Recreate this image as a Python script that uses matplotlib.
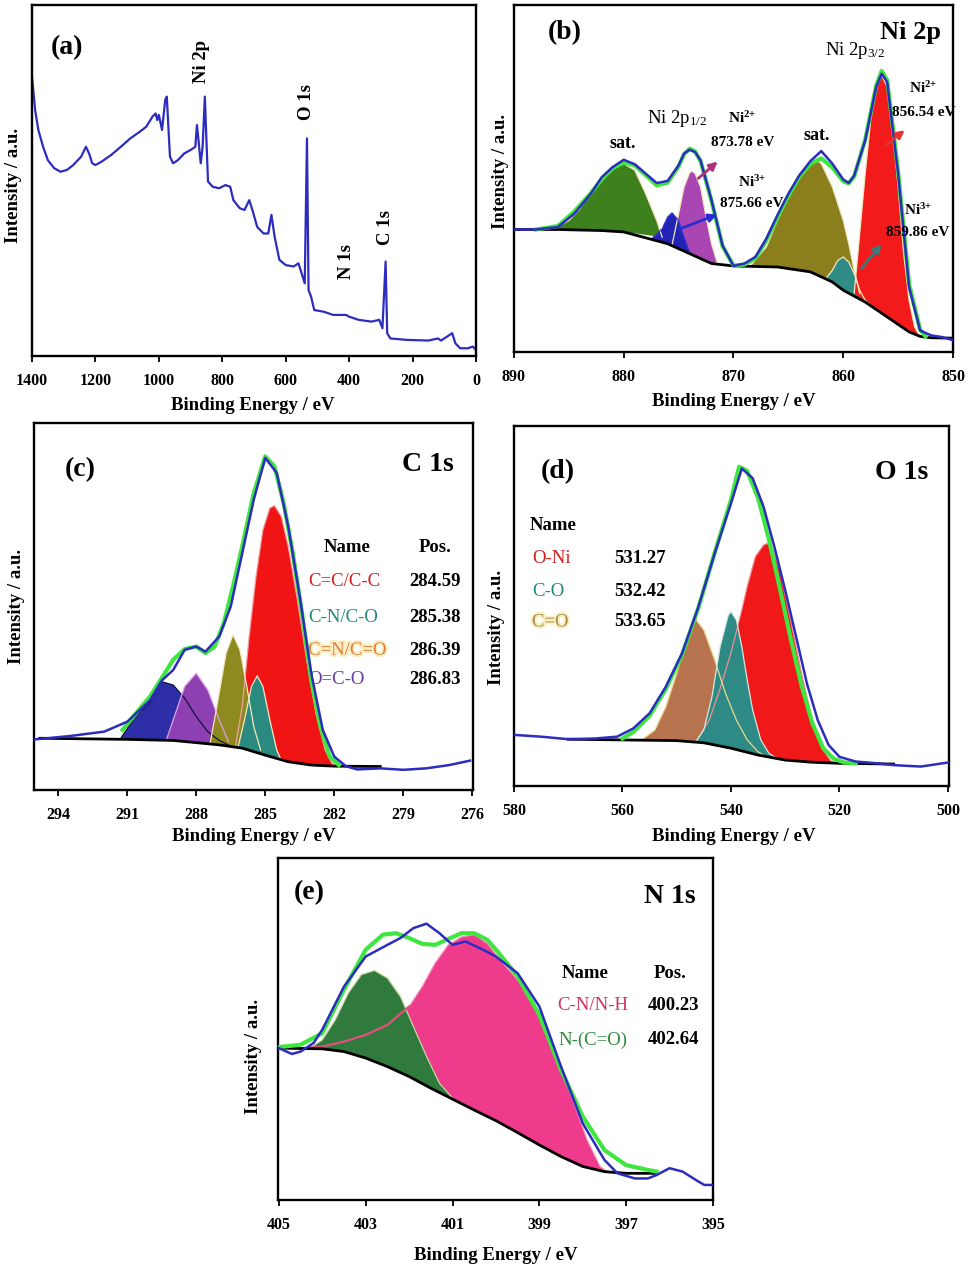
import matplotlib
matplotlib.use('Agg')
import matplotlib.pyplot as plt
import numpy as np
from matplotlib import patheffects as pe

plt.rcParams['font.family'] = ['Liberation Serif', 'DejaVu Serif']
plt.rcParams['font.weight'] = 'bold'
plt.rcParams['axes.labelweight'] = 'bold'
plt.rcParams['mathtext.default'] = 'regular'

# ---------------- data (a) survey ----------------
survey_E = [1400,1390,1380,1365,1350,1330,1310,1290,1270,1245,1230,1220,1210,1200,1180,1150,1120,1090,1060,1040,
            1020,1010,1005,1000,990,980,975,970,965,955,940,920,900,885,880,875,868,862,855,850,845,830,810,790,775,
            765,745,730,715,705,690,670,655,645,635,620,600,575,560,550,540,533,528,520,510,480,450,410,400,370,330,
            305,295,285,280,270,220,150,120,110,75,65,50,25,10,0]
survey_I = [79.6,70,64.4,59.6,55.8,53.5,52.5,53,54.4,56.8,59.6,57.7,54.9,54.4,55.4,57.3,59.6,62,63.9,65.3,
            68.2,69.1,67.2,68.7,64.4,72.9,73.9,65.3,56.8,54.9,55.8,57.7,58.7,59.6,65.8,61.5,54.9,59.6,73.9,61.5,49.7,
            48.2,47.8,48.7,48.2,44.4,42.1,41.6,44.4,41.6,36.8,34.9,34.9,40.2,34,27.4,25.9,25.5,26.4,23.6,20.7,62,18.8,
            16.9,13.1,12.6,11.7,11.7,11.2,10.3,9.8,10.3,7.9,26.9,6.5,5,4.6,4.4,5,4.4,6.5,3.6,2.2,2.2,2.7,1.7]
survey_ticks = [1400, 1200, 1000, 800, 600, 400, 200, 0]

# ---------------- data (b) Ni 2p ----------------
b_bg_E = [890,886,882,880,876,872,870,866,863,861,860,858,856,854,853,852,850]
b_bg_I = [35.3,35.3,35.0,34.6,31.2,25.5,24.8,24.5,23.1,20.2,17.8,14.4,10.1,5.8,4.5,4.1,4.0]
b_raw_E = [890,888,886,884.5,883,882,881,880,879,878,877,876,875,874.5,874,873.5,873,872,871,870,869,868,867,866,
           865,864,863,862,861,860,859.5,859,858,857,856.5,856,855,854,853,852,851,850]
b_raw_I = [35.3,35.3,36.0,39.9,45.6,50.4,53.3,55.4,54.1,51.4,48.7,49.3,53.8,57.2,58.3,57.6,55.2,43.7,30.7,24.8,
           25.5,27.4,32.7,39.4,45.6,50.9,55.0,57.9,54.3,49.7,48.7,50.9,61.0,76.4,80.2,77.8,51.4,18.7,6.2,4.8,4.3,3.4]
b_fit_E = [888,886,884.5,883,882,881,880,879,878,877,876,875,874.5,874,873.5,873,872,871,870,869,868,867,866,865,
           864,863,862,861,860,859.5,859,858,857,856.5,856,855,854,853,852.5]
b_fit_I = [35.3,36.3,40.5,45.8,49.8,53.0,54.6,53.8,51.0,48.0,48.8,53.5,57.0,58.6,57.8,55.0,43.5,30.5,24.9,25.2,
           27.0,32.2,38.8,45.0,50.5,54.2,55.8,53.2,49.2,48.6,50.6,61.2,76.8,81.0,78.4,52.0,19.5,6.5,4.5]
b_sat1_E = [886.5,885,884,883,882,881,880,879,878,877,876.5]
b_sat1_I = [35.3,37.9,41.3,46.1,49.5,52.8,54.3,52.4,45.6,37.9,33.1]
b_ni3a_E = [877.5,876.5,876,875.6,875,874.5,874]
b_ni3a_I = [32.5,35.5,38.9,40.1,37.9,33.1,28.8]
b_ni2a_E = [875.6,875,874.5,874,873.8,873.5,873,872.5,872,871.5]
b_ni2a_I = [30.8,39.9,47.6,51.6,52.2,51.4,47.6,38.9,31.2,25.9]
b_sat2_E = [868.5,867,866,865,864,863,862.5,862,861,860,859.5,859,858.5]
b_sat2_I = [24.7,30.3,37.9,44.7,50.4,54.5,55.4,54.3,47.6,37.9,31.2,23.5,16.8]
b_ni3b_E = [861.5,861,860.5,860,859.5,859,858.5,858,857.5]
b_ni3b_I = [21.5,23.5,26.4,27.4,25.9,22.6,17.8,14.9,13.5]
b_ni2b_E = [859,858.5,858,857.5,857,856.5,856,855.5,855,854.5,854,853.5,853]
b_ni2b_I = [17.0,34.1,51.4,66.8,76.4,79.7,76.4,64.8,47.6,28.4,14.9,7.2,4.5]
b_ticks = [890, 880, 870, 860, 850]

# ---------------- data (c) C 1s ----------------
c_bg_E = [294.8,291,289,288,287,286,285,284,283,282,280]
c_bg_I = [14.1,13.8,13.5,12.9,12.3,11.4,9.5,7.7,6.8,6.5,6.4]
c_raw_E = [295,293.5,292,291,290,289.5,289,288.5,288,287.6,287,286.5,286,285.5,285,284.5,284,283.5,283,282.5,
           282,281.5,281,280,279,278,277,276.1]
c_raw_I = [13.8,14.7,15.9,18.6,24.5,29.8,32.7,38.2,39.1,37.7,41.8,50,64.5,79.1,90.5,86.4,71.8,52.7,31.8,16.4,
           9.1,6.5,5.6,5.9,5.5,5.9,6.8,8.0]
c_fit_E = [291.2,290.5,290,289.5,289,288.5,288,287.6,287.2,286.8,286.4,286,285.5,285,284.6,284.2,283.8,283.4,
           283,282.6,282.2,281.8]
c_fit_I = [16.4,21.8,25.5,30.5,35.5,38.4,39.1,37.3,39.1,45.5,55.5,66.4,80.9,90.9,88.2,78.2,64.5,48.2,30,17.3,9.1,6.8]
c_blue_E = [291.3,290.7,290,289.5,289,288.5,288,287.5,287,286.5]
c_blue_I = [13.9,19.5,24.0,29.5,28.6,25.0,20.0,15.9,13.5,11.9]
c_purple_E = [289.3,289,288.5,288,287.5,287,286.6]
c_purple_I = [13.6,19.1,28.2,31.8,27.3,19.1,13.2]
c_olive_E = [287.4,287,286.7,286.4,286.1,285.8,285.5,285.2]
c_olive_I = [12.5,26.4,37.3,42.3,38.2,28.2,17.3,10.9]
c_teal_E = [286.2,285.9,285.6,285.35,285.1,284.8,284.5,284.3]
c_teal_I = [11.2,19.1,28.2,31.1,28.2,19.1,10.9,8.0]
c_red_E = [286.3,286,285.7,285.4,285.1,284.8,284.6,284.3,284,283.6,283.2,282.8,282.4,282.1,281.9]
c_red_I = [11.7,22.7,41.8,58.2,70.9,76.8,77.5,74.5,66.4,51.8,35.5,20.9,10.9,7.3,6.5]
c_ticks = [294, 291, 288, 285, 282, 279, 276]
c_names = ['C=C/C-C', 'C-N/C-O', 'C=N/C=O', 'O=C-O']
c_pos = ['284.59', '285.38', '286.39', '286.83']

# ---------------- data (d) O 1s ----------------
d_bg_E = [570,560,550,545,540,535,530,525,520,510]
d_bg_I = [13,12.8,12.6,12,10.5,8.6,7.2,6.6,6.3,6.1]
d_raw_E = [580,575,570,565,561,558,555,552,549,546,543,540,538,536,534,532,530,528,526,524,522,520,517,513,510,
           505,501,500]
d_raw_I = [14.2,13.7,13,13.2,13.7,16,20.2,27.6,36.9,49.8,64.6,78.5,88.2,85.5,77.6,66.5,54.4,41.5,28.5,18.3,11.4,
           8.1,6.8,6.3,5.8,5.4,6.3,6.5]
d_fit_E = [560,558,555,552,549,546,543,540,538.5,537,535,533,531,529,527,525,523,521,519,517]
d_fit_I = [13.2,15.0,19.5,27.0,36.5,49.5,64.8,79.5,88.7,87.5,80.0,68.5,55.0,41.0,28.0,17.5,10.5,7.5,6.5,6.3]
d_brown_E = [556.5,554,552,550,548,546.5,545,543,541,539,537,535,533.5]
d_brown_I = [12.7,15.6,22,31.3,41.5,46.3,43.3,35,25.7,18.3,12.8,9.5,8]
d_teal_E = [546.5,545,543.5,542,540.5,540,539,538,537,536,534.5,533,531.5]
d_teal_I = [12.2,15.6,24.8,38.7,47.4,48.4,46.1,38.7,29.4,21.1,12.8,9.1,7.6]
d_red_E = [546.5,544,542,540,538,537,535.5,534,533.3,532.5,531,529,527,525,523,521.5,520.5]
d_red_I = [12.2,18.3,27.0,37.0,48.9,55.4,63.7,66.9,67.4,66.5,60,46.1,31.3,18.3,10,6.8,6.3]
d_ticks = [580, 560, 540, 520, 500]
d_names = ['O-Ni', 'C-O', 'C=O']
d_pos = ['531.27', '532.42', '533.65']

# ---------------- data (e) N 1s ----------------
e_bg_E = [405,404,403.5,403,402.5,402,401.5,401,400.5,400,399.5,399,398.5,398,397.5,397,396.3]
e_bg_I = [44.4,44.2,43.4,41.5,39,36.1,32.7,29.5,26.3,23.2,19.7,16.1,12.7,9.8,8.3,7.8,7.8]
e_raw_E = [405,404.7,404.5,404.2,404,403.5,403,402.5,402.2,401.9,401.6,401.3,401,400.7,400.3,400,399.5,399,398.5,
           398,397.5,397.2,396.8,396.5,396.3,396,395.7,395.4,395.2,395]
e_raw_I = [44.4,42.7,43.4,45.9,49.8,62.4,71.2,74.6,76.6,79.5,80.8,78,74.6,75.6,73.2,71.2,66.3,56.6,39,22.4,11.7,
           7.8,6.3,6.3,7.3,9.3,8.3,5.9,4.4,4.4]
e_fit_E = [405,404.5,404,403.5,403,402.6,402.3,402,401.7,401.4,401.1,400.8,400.5,400.2,400,399.5,399,398.5,398,
           397.5,397,396.5,396.3]
e_fit_I = [44.7,45.4,48.8,61.5,73.2,77.6,78,76.6,74.9,74.6,76.3,78,78,76.1,73.2,65.4,54.1,38,24.4,14.6,10.2,8.8,8.3]
e_green_E = [404.3,404,403.7,403.4,403.1,402.8,402.5,402.2,401.9,401.6,401.3,401,400.8]
e_green_I = [44.3,46.8,52.7,60.5,65.9,67.1,64.9,59.5,50.7,42,34.1,29.8,28.2]
e_pink_E = [404.5,404,403.5,403,402.5,402,401.7,401.4,401.1,400.8,400.5,400.2,399.9,399.5,399,398.5,398.2,397.9,
            397.6,397.4,397.2]
e_pink_I = [44.2,44.9,46.3,48.3,51.2,56.6,62.4,69.3,74.6,76.9,77.6,75.1,70.2,64.4,54.1,39,28.3,17.6,9.8,8,7.8]
e_ticks = [405, 403, 401, 399, 397, 395]
e_names = ['C-N/N-H', 'N-(C=O)']
e_pos = ['400.23', '402.64']

# ---------------- styles ----------------
RAW = '#2c2cbf'
FIT = '#3fe63f'
W, H = 969, 1272

fig = plt.figure(figsize=(W / 100, H / 100), dpi=100)


def make_ax(l, t, r, b):
    return fig.add_axes([l / W, 1 - b / H, (r - l) / W, (b - t) / H])


def style(ax, xlim, ticks, xl, yl):
    ax.set_xlim(*xlim)
    ax.set_ylim(0, 100)
    ax.set_yticks([])
    ax.set_xticks(ticks)
    ax.set_xticklabels([str(t) for t in ticks], fontweight='bold')
    ax.tick_params(axis='x', direction='out', length=4, width=1.3, pad=8, labelsize=11.5)
    for s in ax.spines.values():
        s.set_linewidth(1.7)
    ax.set_xlabel('Binding Energy / eV', fontsize=13.5, fontweight='bold')
    ax.xaxis.set_label_coords(*xl)
    ax.set_ylabel('Intensity / a.u.', fontsize=13.5, fontweight='bold')
    ax.yaxis.set_label_coords(*yl)


def comp(ax, E, I, bgE, bgI, color, edge='#f2e8bc', z=2):
    E = np.asarray(E, float)
    I = np.asarray(I, float)
    bgE = np.asarray(bgE, float)
    bgI = np.asarray(bgI, float)
    lo, hi = E.min(), E.max()
    sel = (bgE > lo) & (bgE < hi)
    bx, by = bgE[sel], bgI[sel]
    order = np.argsort(bx)
    ax.fill(np.concatenate([E, bx[order]]), np.concatenate([I, by[order]]),
            color=color, lw=0, zorder=z)
    ax.plot(E, I, color=edge, lw=0.9, zorder=z + 0.1)


def curves(ax, bgE, bgI, rawE, rawI, fitE, fitI):
    ax.plot(bgE, bgI, color='black', lw=2.0, zorder=6)
    ax.plot(fitE, fitI, color=FIT, lw=3.0, zorder=7)
    ax.plot(rawE, rawI, color=RAW, lw=1.8, zorder=8)


def ion(s):
    return r'Ni$^{\mathregular{%s{+}}}$' % s


# ---------------- (a) ----------------
axa = make_ax(32, 5, 476, 356)
axa.plot(survey_E, survey_I, color=RAW, lw=1.6)
style(axa, (1400, 0), survey_ticks, (0.498, -0.117), (-0.0225, 0.487))
axa.text(1290, 88, '(a)', fontsize=20, ha='center', va='center')
for x, y, s in [(864, 83.8, 'Ni 2p'), (533, 72.4, 'O 1s'), (407, 26.8, 'N 1s'), (284, 36.5, 'C 1s')]:
    axa.text(x, y, s, rotation=90, fontsize=13.5, ha='center', va='center')

# ---------------- (b) ----------------
axb = make_ax(514, 5, 953, 352)
comp(axb, b_sat1_E, b_sat1_I, b_bg_E, b_bg_I, '#3e801d')
comp(axb, b_ni2a_E, b_ni2a_I, b_bg_E, b_bg_I, '#a946b4')
comp(axb, b_ni3a_E, b_ni3a_I, b_bg_E, b_bg_I, '#2222b4', edge='#3a3ad0')
comp(axb, b_sat2_E, b_sat2_I, b_bg_E, b_bg_I, '#8a7e1d')
comp(axb, b_ni3b_E, b_ni3b_I, b_bg_E, b_bg_I, '#2f8c86')
comp(axb, b_ni2b_E, b_ni2b_I, b_bg_E, b_bg_I, '#f21a1a')
curves(axb, b_bg_E, b_bg_I, b_raw_E, b_raw_I, b_fit_E, b_fit_I)
style(axb, (890, 850), b_ticks, (0.50, -0.118), (-0.011, 0.52))
axb.text(885.35, 91.9, '(b)', fontsize=20, ha='center', va='center')
axb.text(853.9, 92.2, 'Ni 2p', fontsize=19, ha='center', va='center')
axb.text(858.9, 87, r'Ni 2p$_{\mathregular{3/2}}$', fontsize=13.5, fontweight='normal', ha='center', va='center')
axb.text(875.15, 67.4, r'Ni 2p$_{\mathregular{1/2}}$', fontsize=13.5, fontweight='normal', ha='center', va='center')
axb.text(880.1, 60.2, 'sat.', fontsize=13, ha='center', va='center')
axb.text(862.4, 62.5, 'sat.', fontsize=13, ha='center', va='center')
for x, y1, y2, q, ev in [(869.2, 67.4, 60.5, '2', '873.78 eV'), (868.3, 49.0, 42.9, '3', '875.66 eV'),
                         (852.7, 76.1, 68.9, '2', '856.54 eV'), (853.2, 40.9, 34.3, '3', '859.86 eV')]:
    axb.text(x, y1, ion(q), fontsize=11, ha='center', va='center', zorder=10)
    axb.text(x, y2, ev, fontsize=11, ha='center', va='center', zorder=10)
for (x0, y0), (x1, y1), col in [((873.4, 49.5), (871.25, 55.4), '#b0307c'),
                                ((875.2, 35.1), (871.25, 39.9), '#2b2bd0'),
                                ((856.35, 59.1), (854.2, 64.4), '#e83030'),
                                ((858.5, 23.5), (856.35, 31.7), '#3b7a78')]:
    axb.annotate('', xy=(x1, y1), xytext=(x0, y0), zorder=11,
                 arrowprops=dict(arrowstyle='-|>', color=col, lw=2.0, mutation_scale=12))

# ---------------- (c) ----------------
axc = make_ax(34, 423, 473, 790)
comp(axc, c_blue_E, c_blue_I, c_bg_E, c_bg_I, '#2e2ea8', edge='#101040')
comp(axc, c_purple_E, c_purple_I, c_bg_E, c_bg_I, '#8e40b2', edge='#e0a0e8')
comp(axc, c_red_E, c_red_I, c_bg_E, c_bg_I, '#f01414', edge='#f0a0a0')
comp(axc, c_olive_E, c_olive_I, c_bg_E, c_bg_I, '#8f8a1f')
comp(axc, c_teal_E, c_teal_I, c_bg_E, c_bg_I, '#2b8a80')
curves(axc, c_bg_E, c_bg_I, c_raw_E, c_raw_I, c_fit_E, c_fit_I)
style(axc, (295.05, 275.97), c_ticks, (0.50, -0.104), (-0.0205, 0.50))
axc.text(293.05, 87.2, '(c)', fontsize=20, ha='center', va='center')
axc.text(277.93, 88.6, 'C 1s', fontsize=20, ha='center', va='center')
axc.text(281.45, 66.2, 'Name', fontsize=13.5, ha='center', va='center')
axc.text(277.63, 66.2, 'Pos.', fontsize=13.5, ha='center', va='center')
c_cols = ['#d41c1c', '#1f8a7a', '#e07a46', '#6a3aa0']
for i, (nm, ps, col, y) in enumerate(zip(c_names, c_pos, c_cols, [56.7, 47.1, 38.1, 30.0])):
    t = axc.text(283.14, y, nm, fontsize=13.5, fontweight='normal', color=col, ha='left', va='center')
    if i == 2:
        t.set_path_effects([pe.withStroke(linewidth=3, foreground='#f8efbf')])
    axc.text(277.63, y, ps, fontsize=13.5, ha='center', va='center')

# ---------------- (d) ----------------
axd = make_ax(514, 426, 949, 786)
comp(axd, d_red_E, d_red_I, d_bg_E, d_bg_I, '#f01818', edge='#f09090')
comp(axd, d_brown_E, d_brown_I, d_bg_E, d_bg_I, '#b8744e', edge='#e8d890')
comp(axd, d_teal_E, d_teal_I, d_bg_E, d_bg_I, '#2e8a85', edge='#d0e8e0')
curves(axd, d_bg_E, d_bg_I, d_raw_E, d_raw_I, d_fit_E, d_fit_I)
style(axd, (580, 499.8), d_ticks, (0.505, -0.117), (-0.0207, 0.44))
axd.text(571.9, 87.2, '(d)', fontsize=20, ha='center', va='center')
axd.text(508.6, 87.2, 'O 1s', fontsize=20, ha='center', va='center')
axd.text(577.06, 72.5, 'Name', fontsize=13.5, ha='left', va='center')
d_cols = ['#d41c1c', '#1f8a7a', '#a88a4c']
for i, (nm, ps, col, y) in enumerate(zip(d_names, d_pos, d_cols, [63.3, 53.9, 45.6])):
    t = axd.text(576.7, y, nm, fontsize=13.5, fontweight='normal', color=col, ha='left', va='center')
    if i == 2:
        t.set_path_effects([pe.withStroke(linewidth=3, foreground='#f8efbf')])
    axd.text(556.8, y, ps, fontsize=13.5, ha='center', va='center')

# ---------------- (e) ----------------
axe = make_ax(278, 858, 713, 1200)
comp(axe, e_pink_E, e_pink_I, e_bg_E, e_bg_I, '#ef3b8c', edge='#f0a0c0')
comp(axe, e_green_E, e_green_I, e_bg_E, e_bg_I, '#2f7a3c', edge='#c8d8a0')
axe.plot(e_pink_E[:6], e_pink_I[:6], color='#e0507a', lw=1.6, zorder=3)
curves(axe, e_bg_E, e_bg_I, e_raw_E, e_raw_I, e_fit_E, e_fit_I)
style(axe, (405.02, 395), e_ticks, (0.50, -0.137), (-0.037, 0.42))
axe.text(404.31, 90, '(e)', fontsize=20, ha='center', va='center')
axe.text(395.99, 88.6, 'N 1s', fontsize=20, ha='center', va='center')
axe.text(397.94, 66.1, 'Name', fontsize=13.5, ha='center', va='center')
axe.text(395.99, 66.1, 'Pos.', fontsize=13.5, ha='center', va='center')
e_cols = ['#d23060', '#2f8a3a']
for nm, ps, col, y in zip(e_names, e_pos, e_cols, [57.0, 46.8]):
    axe.text(397.76, y, nm, fontsize=13.5, fontweight='normal', color=col, ha='center', va='center')
    axe.text(395.92, y, ps, fontsize=13.5, ha='center', va='center')

fig.savefig('out.png', dpi=100)
